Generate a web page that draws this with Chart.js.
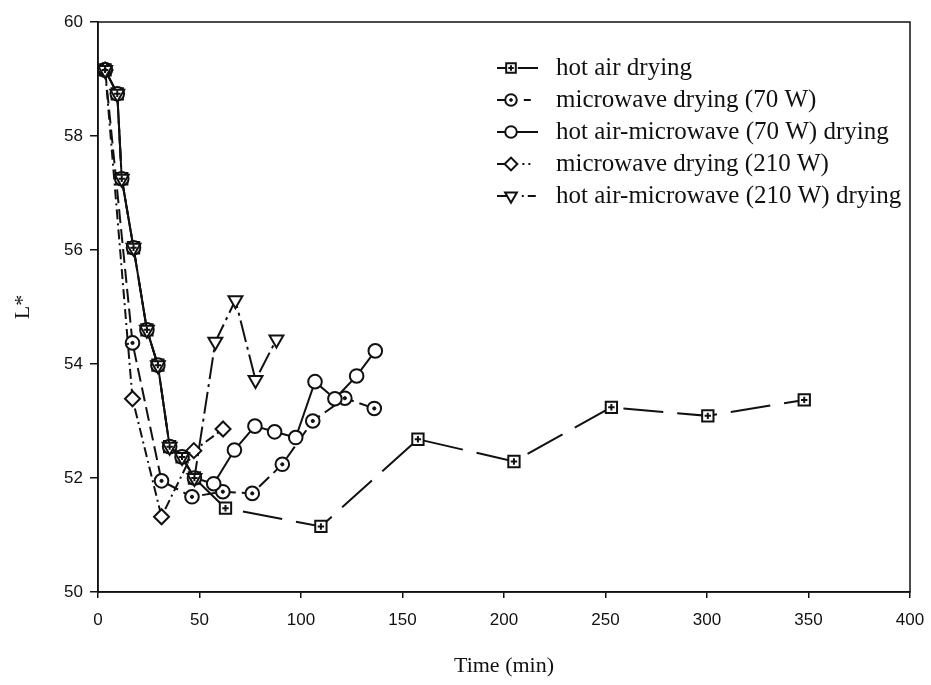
<!DOCTYPE html>
<html>
<head>
<meta charset="utf-8">
<script src="https://cdn.jsdelivr.net/npm/chart.js@4.4.1/dist/chart.umd.min.js"></script>
<style>
html,body{margin:0;padding:0;background:#ffffff;}
#wrap{width:931px;height:685px;position:relative;}
</style>
</head>
<body>
<div id="wrap"><canvas id="c" width="931" height="685"></canvas></div>
<script>
// ---- data ----
const xTickValues = [0, 50, 100, 150, 200, 250, 300, 350, 400];
const yTickValues = [50, 52, 54, 56, 58, 60];

const seriesNames = [
  'hot air drying',
  'microwave drying (70 W)',
  'hot air-microwave (70 W) drying',
  'microwave drying (210 W)',
  'hot air-microwave (210 W) drying'
];

const timeHotAir = [3.5, 9.5, 11.7, 17.5, 24.1, 29.5, 35.3, 41.4, 47.5, 62.8, 109.8, 157.6, 204.9, 252.9, 300.4, 347.9];
const lHotAir    = [59.16, 58.74, 57.25, 56.04, 54.60, 53.98, 52.55, 52.37, 52.00, 51.47, 51.15, 52.68, 52.29, 53.24, 53.09, 53.37];

const timeMw70 = [3.5, 17.0, 31.3, 46.3, 61.5, 76.0, 90.8, 105.8, 121.6, 136.1];
const lMw70    = [59.16, 54.37, 51.95, 51.67, 51.76, 51.73, 52.24, 53.00, 53.40, 53.22];

const timeHaMw70 = [3.5, 9.5, 11.7, 17.5, 24.1, 29.5, 35.3, 41.4, 47.5, 57.0, 67.2, 77.3, 87.0, 97.4, 106.9, 116.7, 127.4, 136.6];
const lHaMw70    = [59.16, 58.74, 57.25, 56.04, 54.60, 53.98, 52.55, 52.37, 52.00, 51.90, 52.49, 52.91, 52.81, 52.71, 53.69, 53.39, 53.79, 54.23];

const timeMw210 = [3.5, 17.0, 31.3, 47.2, 61.6];
const lMw210    = [59.16, 53.39, 51.32, 52.48, 52.86];

const timeHaMw210 = [3.5, 9.5, 11.7, 17.5, 24.1, 29.5, 35.3, 41.4, 47.5, 57.8, 67.7, 77.6, 87.9];
const lHaMw210    = [59.16, 58.74, 57.25, 56.04, 54.60, 53.98, 52.55, 52.37, 52.00, 54.39, 55.12, 53.72, 54.43];

const xTitle = 'Time (min)';
const yTitle = 'L*';

// ---- build chart ----
const pts = (t, v) => t.map((x, i) => ({x: x, y: v[i]}));
const INK = '#111111';

function series(label, t, v, style, dash, radius, rot, legendTail, inner) {
  return {
    label: label, legendText: label, legendTail: legendTail, inner: inner,
    data: pts(t, v),
    borderColor: INK, borderWidth: 2, borderDash: dash,
    pointStyle: style, pointRotation: rot || 0, pointRadius: radius,
    pointBackgroundColor: '#ffffff', pointBorderColor: INK, pointBorderWidth: 2,
    fill: false, tension: 0, showLine: true, order: 2
  };
}
function overlay(t, v, style, radius, bw) {
  return {
    label: '', data: pts(t, v), showLine: false,
    pointStyle: style, pointRadius: radius, pointBorderWidth: bw,
    pointBackgroundColor: INK, pointBorderColor: INK, order: 0
  };
}

const datasets = [
  series(seriesNames[4], timeHaMw210, lHaMw210, 'triangle', [22, 5, 3, 5], 8, 180, [0, 4, 2, 4, 8, 100]),
  series(seriesNames[3], timeMw210, lMw210, 'rectRot', [10, 4, 2, 4], 7.5, 0, [0, 5, 2, 4, 2, 100]),
  series(seriesNames[2], timeHaMw70, lHaMw70, 'circle', [], 6.8, 0, []),
  series(seriesNames[1], timeMw70, lMw70, 'circle', [14, 6], 6.8, 0, [0, 7, 7, 100], {pointStyle: 'circle', radius: 1.6, bw: 1}),
  series(seriesNames[0], timeHotAir, lHotAir, 'rect', [40, 14], 8, 0, [], {pointStyle: 'cross', radius: 3.2, bw: 2}),
  overlay(timeMw70, lMw70, 'circle', 1.6, 1),
  overlay(timeHotAir, lHotAir, 'cross', 3.2, 2)
];
datasets[0].order = 1;

const LEG = {x0: 497, x1: 538, mx: 511, textX: 556, y0: 68, dy: 32, font: '25px "Liberation Serif", "Times New Roman", serif'};
const legendOrder = [4, 3, 2, 1, 0];

function drawMarker(ctx, opts, x, y) {
  if (Chart.helpers && Chart.helpers.drawPoint) {
    Chart.helpers.drawPoint(ctx, opts, x, y);
  }
}

const framePlugin = {
  id: 'frame',
  afterDraw(chart) {
    const a = chart.chartArea, ctx = chart.ctx;
    ctx.save();
    ctx.strokeStyle = INK; ctx.lineWidth = 1.5;
    ctx.strokeRect(a.left, a.top, a.right - a.left, a.bottom - a.top);
    ctx.restore();
  }
};

const legendPlugin = {
  id: 'insideLegend',
  afterDraw(chart) {
    const ctx = chart.ctx;
    ctx.save();
    legendOrder.forEach((di, row) => {
      const ds = chart.data.datasets[di];
      const y = LEG.y0 + row * LEG.dy;
      const r = ds.pointRadius * 0.85;
      ctx.strokeStyle = INK; ctx.lineWidth = 2;
      ctx.setLineDash([]);
      ctx.beginPath(); ctx.moveTo(LEG.x0, y); ctx.lineTo(LEG.mx, y); ctx.stroke();
      ctx.setLineDash(ds.legendTail || []);
      ctx.beginPath(); ctx.moveTo(LEG.mx + r, y); ctx.lineTo(LEG.x1, y); ctx.stroke();
      ctx.setLineDash([]);
      ctx.fillStyle = '#ffffff'; ctx.strokeStyle = INK; ctx.lineWidth = 2;
      drawMarker(ctx, {pointStyle: ds.pointStyle, rotation: ds.pointRotation, radius: r, borderWidth: 2}, LEG.mx, y);
      if (ds.inner) {
        ctx.fillStyle = INK; ctx.lineWidth = ds.inner.bw;
        drawMarker(ctx, {pointStyle: ds.inner.pointStyle, rotation: 0, radius: ds.inner.radius * 0.85, borderWidth: ds.inner.bw}, LEG.mx, y);
      }
      ctx.fillStyle = INK;
      ctx.font = LEG.font;
      ctx.textBaseline = 'middle';
      ctx.textAlign = 'left';
      ctx.fillText(ds.legendText, LEG.textX, y);
    });
    ctx.restore();
  }
};

new Chart(document.getElementById('c'), {
  type: 'scatter',
  data: {datasets: datasets},
  options: {
    responsive: false, animation: false, devicePixelRatio: 1,
    layout: {padding: {top: 22, right: 21, left: 0, bottom: 0}},
    plugins: {legend: {display: false}, tooltip: {enabled: false}},
    scales: {
      x: {
        type: 'linear', min: 0, max: 400,
        afterBuildTicks: s => { s.ticks = xTickValues.map(v => ({value: v})); },
        afterFit: s => { s.height = 93; s.paddingRight = 0; s.paddingLeft = 0; },
        grid: {display: true, drawOnChartArea: false, drawTicks: true, tickLength: 6, color: INK, lineWidth: 1.5},
        border: {display: true, color: INK, width: 1.5},
        ticks: {color: INK, padding: 12, maxRotation: 0, font: {family: '"Liberation Sans", Arial, sans-serif', size: 17}},
        title: {display: true, text: xTitle, color: INK, padding: {top: 4, bottom: 6},
                font: {family: '"Liberation Serif", "Times New Roman", serif', size: 22}}
      },
      y: {
        type: 'linear', min: 50, max: 60,
        afterBuildTicks: s => { s.ticks = yTickValues.map(v => ({value: v})); },
        afterFit: s => { s.width = 98; s.paddingTop = 0; s.paddingBottom = 0; },
        grid: {display: true, drawOnChartArea: false, drawTicks: true, tickLength: 8, color: INK, lineWidth: 1.5},
        border: {display: true, color: INK, width: 1.5},
        ticks: {color: INK, padding: 7, font: {family: '"Liberation Sans", Arial, sans-serif', size: 17}},
        title: {display: true, text: yTitle, color: INK, padding: {top: 10, bottom: 4},
                font: {family: '"Liberation Serif", "Times New Roman", serif', size: 22}}
      }
    }
  },
  plugins: [framePlugin, legendPlugin]
});
</script>
</body>
</html>
